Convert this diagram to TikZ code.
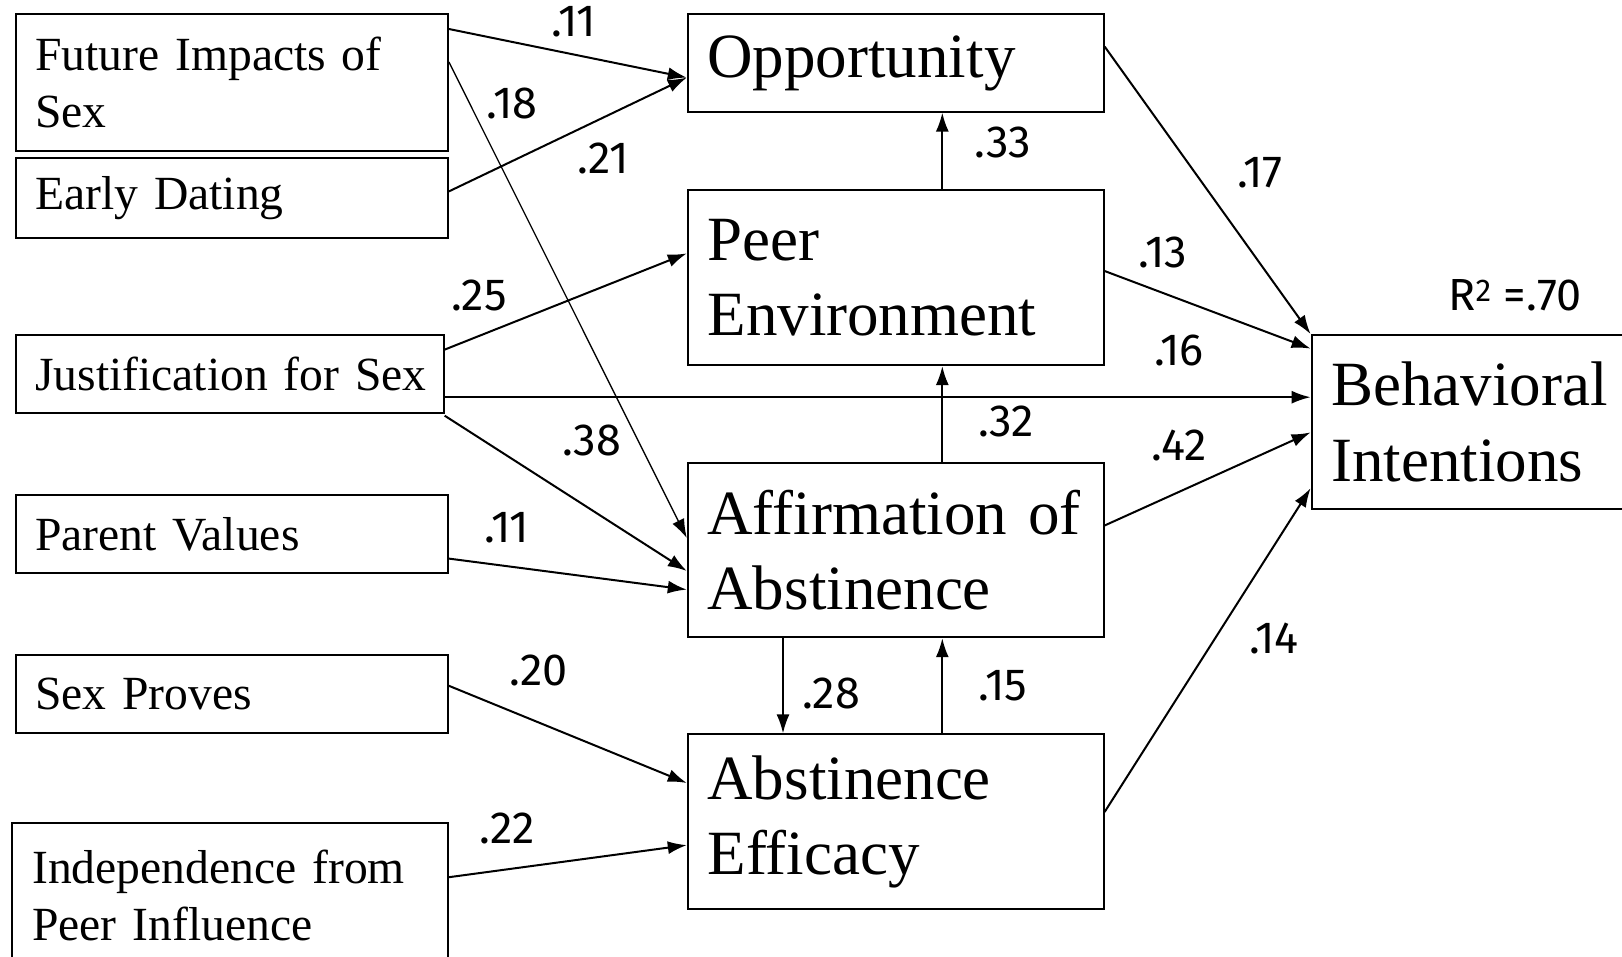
\documentclass[tikz,border=0pt]{standalone}
\usepackage{fontspec}
\setmainfont[WordSpace=0.75]{Liberation Serif}
\newfontfamily\lblfont{Fira Sans}
\usetikzlibrary{arrows.meta}
\begin{document}
\begin{tikzpicture}[x=1pt,y=-1pt,
  box/.style={draw, line width=2pt, anchor=north west, align=left, inner xsep=19.7pt, inner ysep=0pt},
  smalltxt/.style={font=\fontsize{47.6}{57}\selectfont},
  bigtxt/.style={font=\fontsize{63}{75.5}\selectfont},
  lbl/.style={font=\lblfont\fontsize{45}{50}\selectfont, inner sep=0pt},
  arr/.style={line width=2pt, -{Latex[length=19pt,width=13pt]}}]
\useasboundingbox (0,0) rectangle (1622,957);
% left boxes
\node[box,smalltxt,minimum width=432.4pt,minimum height=136.6pt,text width=393pt] (fut) at (14.5,13.4) {\mbox{Future Impacts of}\\\mbox{Sex}};
\node[box,smalltxt,minimum width=432.4pt,minimum height=79.7pt,text width=393pt] (early) at (14.5,157.2) {\mbox{Early Dating}};
\node[box,smalltxt,minimum width=428.2pt,minimum height=77.6pt,text width=388.8pt] (just) at (14.5,334.1) {\mbox{Justification for Sex}};
\node[box,smalltxt,minimum width=432.4pt,minimum height=77.6pt,text width=393pt] (par) at (14.5,494.4) {\mbox{Parent Values}};
\node[box,smalltxt,minimum width=432.4pt,minimum height=78.6pt,text width=393pt] (sexp) at (14.5,653.7) {\mbox{Sex Proves}};
\node[box,smalltxt,minimum width=435.5pt,minimum height=145pt,text width=396pt] (indep) at (11.4,822.3) {\mbox{Independence from}\\\mbox{Peer Influence}};
% middle boxes
\node[box,bigtxt,minimum width=415.8pt,minimum height=97.2pt,text width=376.4pt] (opp) at (686.8,13.4) {\mbox{Opportunity}};
\node[box,bigtxt,minimum width=415.8pt,minimum height=174.8pt,text width=376.4pt] (peer) at (686.8,189.3) {\mbox{Peer}\\\mbox{Environment}};
\node[box,bigtxt,minimum width=415.8pt,minimum height=173.8pt,text width=376.4pt] (aff) at (686.8,462.4) {\mbox{Affirmation of}\\\mbox{Abstinence}};
\node[box,bigtxt,minimum width=415.8pt,minimum height=174.8pt,text width=376.4pt] (eff) at (686.8,733.4) {\mbox{Abstinence}\\\mbox{Efficacy}};
% outcome
\node[box,bigtxt,minimum width=340pt,minimum height=173.8pt,text width=300.6pt] (beh) at (1310.6,334.1) {\mbox{Behavioral}\\\mbox{Intentions}};
% arrows
\draw[arr] ([yshift=-15.6pt]fut.north east) -- ([yshift=-64.2pt]opp.north west);
\draw[line width=1.3pt, -{Latex[length=19pt,width=13pt]}] ([yshift=-48.6pt]fut.north east) -- ([yshift=-75.6pt]aff.north west);
\draw[arr] ([yshift=-34.2pt]early.north east) -- ([yshift=-64.2pt]opp.north west);
\draw[arr] ([yshift=-15.5pt]just.north east) -- ([yshift=-64.1pt]peer.north west);
\draw[arr] ([yshift=-63.1pt]just.north east) -- ([yshift=-63.1pt]beh.north west);
\draw[arr] ([yshift=-2pt]just.south east) -- ([yshift=-108.6pt]aff.north west);
\draw[arr] ([yshift=-64.2pt]par.north east) -- ([yshift=-127.2pt]aff.north west);
\draw[arr] ([yshift=-32.1pt]sexp.north east) -- ([yshift=-49.6pt]eff.north west);
\draw[arr] ([yshift=-54.9pt]indep.north east) -- ([yshift=-111.7pt]eff.north west);
\draw[arr] ([xshift=255.5pt]peer.north west) -- ([xshift=255.5pt]opp.south west);
\draw[arr] ([xshift=255.5pt]aff.north west) -- ([xshift=255.5pt]peer.south west);
\draw[arr] ([xshift=96.2pt]aff.south west) -- ([xshift=96.2pt]eff.north west);
\draw[arr] ([xshift=255.5pt]eff.north west) -- ([xshift=255.5pt]aff.south west);
\draw[arr] ([yshift=-33.1pt]opp.north east) -- (beh.north west);
\draw[arr] ([yshift=-81.7pt]peer.north east) -- ([yshift=-14.5pt]beh.north west);
\draw[arr] ([yshift=-63.1pt]aff.north east) -- ([yshift=-98.3pt]beh.north west);
\draw[arr] ([yshift=-78.6pt]eff.north east) -- ([yshift=-154.1pt]beh.north west);
% labels
\node[lbl] (l1) at (574,22) {.11};
\node[lbl] (l2) at (512,103) {.18};
\node[lbl] (l3) at (603,158) {.21};
\node[lbl] (l4) at (479,295) {.25};
\node[lbl] (l5) at (1179,350) {.16};
\node[lbl] (l6) at (592,440) {.38};
\node[lbl] (l7) at (507,528) {.11};
\node[lbl] (l8) at (539,670) {.20};
\node[lbl] (l9) at (507,828) {.22};
\node[lbl] (l10) at (1003,142) {.33};
\node[lbl] (l11) at (1006,421) {.32};
\node[lbl] (l12) at (831,693) {.28};
\node[lbl] (l13) at (1003,686) {.15};
\node[lbl] (l14) at (1260,173) {.17};
\node[lbl] (l15) at (1163,252) {.13};
\node[lbl] (l16) at (1179,445) {.42};
\node[lbl] (l17) at (1274,638) {.14};
\node[lbl] (r2) at (1515,295) {R\textsuperscript{2} =.70};
\end{tikzpicture}
\end{document}
